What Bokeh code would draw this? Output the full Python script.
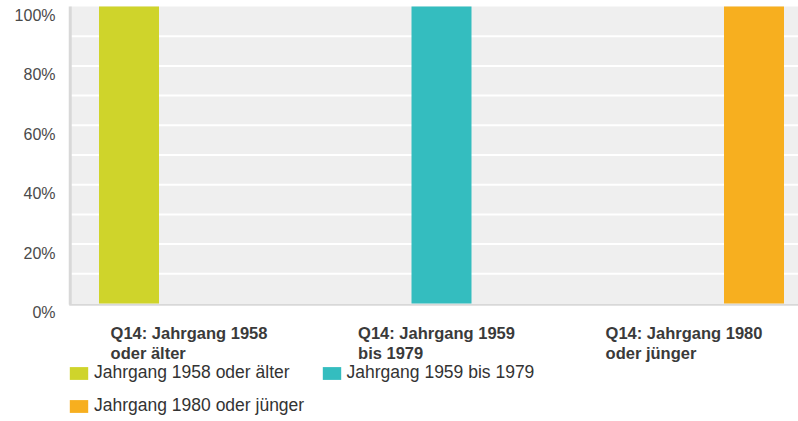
from bokeh.plotting import figure
from bokeh.models import Range1d, Label, Legend, LegendItem, BoxAnnotation
from bokeh.embed import file_html
from bokeh.resources import INLINE

# ---- data ----
categories = [
    "Q14: Jahrgang 1958\noder älter",
    "Q14: Jahrgang 1959\nbis 1979",
    "Q14: Jahrgang 1980\noder jünger",
]
series_names = [
    "Jahrgang 1958 oder älter",
    "Jahrgang 1959 bis 1979",
    "Jahrgang 1980 oder jünger",
]
values_1958 = [100, 0, 0]
values_1959 = [0, 100, 0]
values_1980 = [0, 0, 100]
y_ticks = [0, 20, 40, 60, 80, 100]
y_tick_labels = ["0%", "20%", "40%", "60%", "80%", "100%"]
grid_ticks = [10, 20, 30, 40, 50, 60, 70, 80, 90]

# ---- layout / style ----
colors = ["#CFD42B", "#34BDBF", "#F7AF1F"]
DODGE = 0.2626
BAR_W = 0.2424
LABEL_OFF = -0.337
X0, X1 = -0.7818, 2.4424
PLOT_L, PLOT_R = -0.5, X1     # x extent of grey plot area
FONT = "Liberation Sans"
W, H = 798, 421

p = figure(
    width=W, height=H,
    x_range=Range1d(X0, X1), y_range=Range1d(-39.73, 102.02),
    output_backend="svg", toolbar_location=None,
    x_axis_location=None, y_axis_location=None,
    min_border=0, min_border_left=0, min_border_right=0,
    min_border_top=0, min_border_bottom=0,
)
p.background_fill_color = "white"
p.border_fill_color = "white"
p.outline_line_color = None
p.xgrid.visible = False
p.ygrid.visible = False

# grey plot area
p.add_layout(BoxAnnotation(left=PLOT_L, right=PLOT_R, bottom=0, top=100,
                           fill_color="#EFEFEF", fill_alpha=1, line_color=None,
                           level="underlay"))
# white grid lines
p.segment(x0=[PLOT_L] * len(grid_ticks), x1=[PLOT_R] * len(grid_ticks),
          y0=grid_ticks, y1=grid_ticks, line_color="white", line_width=2)

# axis lines
p.segment(x0=[PLOT_L], x1=[PLOT_L], y0=[-0.4], y1=[100], line_color="#D8D8D8", line_width=3)
p.segment(x0=[PLOT_L - 0.004], x1=[PLOT_R], y0=[-0.4], y1=[-0.4], line_color="#D8D8D8", line_width=2)

renderers = []
for j, vals in enumerate([values_1958, values_1959, values_1980]):
    xs = [i + (j - 1) * DODGE for i in range(len(categories))]
    r = p.vbar(x=xs, top=vals, bottom=0, width=BAR_W, fill_color=colors[j], line_color=None)
    renderers.append(r)

# y tick labels (sit a little below their grid lines, as in the reference)
for t, lab in zip(y_ticks, y_tick_labels):
    p.add_layout(Label(
        x=55, x_units="screen", y=t, y_units="data", y_offset=-9,
        text=lab, text_align="right", text_baseline="middle",
        text_font=FONT, text_font_size="16px", text_color="#4A4A4A",
    ))

# category labels (left-aligned blocks centred under each group)
for i, cat in enumerate(categories):
    p.add_layout(Label(
        x=i + LABEL_OFF, x_units="data", y=98, y_units="screen",
        text=cat, text_align="left", text_baseline="top",
        text_font=FONT, text_font_size="16.5px", text_font_style="bold",
        text_color="#3A3A3A", text_line_height=1.16,
    ))

common = dict(
    orientation="horizontal", glyph_width=23, glyph_height=16, label_standoff=4,
    spacing=30, padding=0, margin=0, border_line_color=None, background_fill_alpha=0,
    label_text_font=FONT, label_text_font_size="17.5px", label_text_color="#333333",
    label_height=16,
)
legend1 = Legend(items=[LegendItem(label=series_names[k], renderers=[renderers[k]]) for k in (0, 1)],
                 location=(67, 38), **common)
legend2 = Legend(items=[LegendItem(label=series_names[2], renderers=[renderers[2]])],
                 location=(67, 5), **common)
p.add_layout(legend1, "center")
p.add_layout(legend2, "center")

open("out.html", "w").write(file_html(p, INLINE))
